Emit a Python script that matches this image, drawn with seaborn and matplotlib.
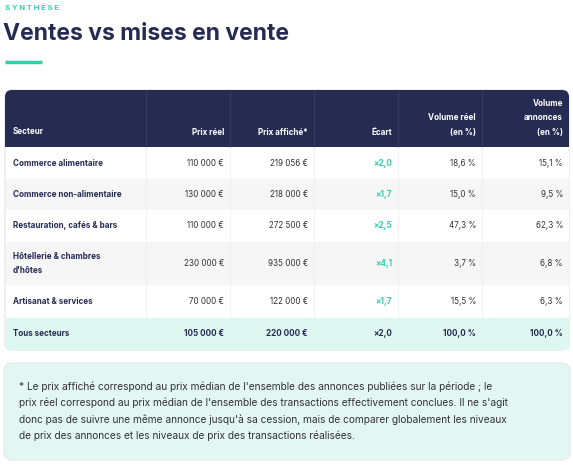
import matplotlib
matplotlib.use("Agg")
import matplotlib.pyplot as plt
from matplotlib.patches import FancyBboxPatch, Rectangle
import seaborn as sns

sns.set_theme(style="white")
plt.rcParams['font.family'] = ['Inter', 'DejaVu Sans']

# Data
columns = ["Secteur", "Prix réel", "Prix affiché*", "Écart", "Volume réel\n(en %)", "Volume\nannonces\n(en %)"]
sectors = ["Commerce alimentaire", "Commerce non-alimentaire", "Restauration, cafés & bars",
           "Hôtellerie & chambres\nd'hôtes", "Artisanat & services"]
prix_reel = ["110 000 €", "130 000 €", "110 000 €", "230 000 €", "70 000 €"]
prix_affiche = ["219 056 €", "218 000 €", "272 500 €", "935 000 €", "122 000 €"]
ecart = ["×2,0", "×1,7", "×2,5", "×4,1", "×1,7"]
volume_reel = ["18,6 %", "15,0 %", "47,3 %", "3,7 %", "15,5 %"]
volume_annonces = ["15,1 %", "9,5 %", "62,3 %", "6,8 %", "6,3 %"]
total_row = ["Tous secteurs", "105 000 €", "220 000 €", "×2,0", "100,0 %", "100,0 %"]
footnote = ("* Le prix affiché correspond au prix médian de l'ensemble des annonces publiées sur la période ; le\n"
            "prix réel correspond au prix médian de l'ensemble des transactions effectivement conclues. Il ne s'agit\n"
            "donc pas de suivre une même annonce jusqu'à sa cession, mais de comparer globalement les niveaux\n"
            "de prix des annonces et les niveaux de prix des transactions réalisées.")

NAVY = "#262b52"
TEAL = "#2fd3aa"
MINT = "#dff7f1"
FS = 5.8

fig = plt.figure(figsize=(5.73, 4.66), dpi=100)
ax = fig.add_axes([0, 0, 1, 1])
ax.set_xlim(0, 573)
ax.set_ylim(466, 0)
ax.axis("off")

ax.text(5, 8, "S Y N T H È S E", color=TEAL, fontsize=5.5, fontweight="bold", va="center")
ax.text(3, 34, "Ventes vs mises en vente", color=NAVY, fontsize=16.5, fontweight="bold", va="center")
ax.plot([5, 42], [62, 62], color=TEAL, lw=2.5, solid_capstyle="butt")

xb = [5, 146, 230, 314, 398, 482, 569]
yb = [90, 147, 179, 210, 242, 285, 318, 350]

# table outline with rounded top
ax.add_patch(FancyBboxPatch((xb[0], yb[0]), xb[-1] - xb[0], yb[-1] - yb[0],
                            boxstyle="round,pad=0,rounding_size=7", fc="white", ec="#e4e4e8", lw=0.8))
ax.add_patch(FancyBboxPatch((xb[0], yb[0]), xb[-1] - xb[0], yb[1] - yb[0],
                            boxstyle="round,pad=0,rounding_size=7", fc=NAVY, ec="none"))
ax.add_patch(Rectangle((xb[0], yb[1] - 10), xb[-1] - xb[0], 10, fc=NAVY, ec="none"))
for x in xb[1:-1]:
    ax.plot([x, x], [yb[0], yb[1]], color="#3a3f66", lw=0.6)

for j, col in enumerate(columns):
    if j == 0:
        ax.text(xb[0] + 8, yb[1] - 15, col, color="white", fontsize=FS, fontweight="bold",
                va="center", ha="left")
    else:
        ax.text(xb[j + 1] - 6, yb[1] - 10, col, color="white", fontsize=FS, fontweight="bold",
                va="bottom", ha="right", linespacing=1.8)

rows = list(zip(sectors, prix_reel, prix_affiche, ecart, volume_reel, volume_annonces))
for i, r in enumerate(rows):
    y0, y1 = yb[i + 1], yb[i + 2]
    fc = "white" if i % 2 == 0 else "#f6f6f7"
    ax.add_patch(Rectangle((xb[0] + 0.5, y0), xb[-1] - xb[0] - 1, y1 - y0, fc=fc, ec="none"))
    for x in xb[1:-1]:
        ax.plot([x, x], [y0, y1], color="#ededf0", lw=0.5)
    yc = (y0 + y1) / 2
    for j, val in enumerate(r):
        if j == 0:
            ax.text(xb[0] + 8, yc, val, color=NAVY, fontsize=FS, fontweight="bold",
                    va="center", ha="left", linespacing=1.6)
        else:
            color = TEAL if j == 3 else "#333333"
            ax.text(xb[j + 1] - 6, yc, val, color=color, fontsize=FS,
                    fontweight="bold" if j == 3 else "normal", va="center", ha="right")

y0, y1 = yb[-2], yb[-1]
ax.add_patch(Rectangle((xb[0] + 0.5, y0), xb[-1] - xb[0] - 1, y1 - y0, fc=MINT, ec="none"))
for j, val in enumerate(total_row):
    if j == 0:
        ax.text(xb[0] + 8, (y0 + y1) / 2, val, color=NAVY, fontsize=FS, fontweight="bold",
                va="center", ha="left")
    else:
        ax.text(xb[j + 1] - 6, (y0 + y1) / 2, val, color=NAVY, fontsize=FS, fontweight="bold",
                va="center", ha="right")

ax.add_patch(FancyBboxPatch((4, 363), 566, 97, boxstyle="round,pad=0,rounding_size=8",
                            fc="#e3f7f2", ec="#e6e9ea", lw=0.8))
ax.text(19, 411, footnote, color="#333333", fontsize=7.3, va="center", ha="left", linespacing=1.65)

fig.savefig("out.png", dpi=100)
